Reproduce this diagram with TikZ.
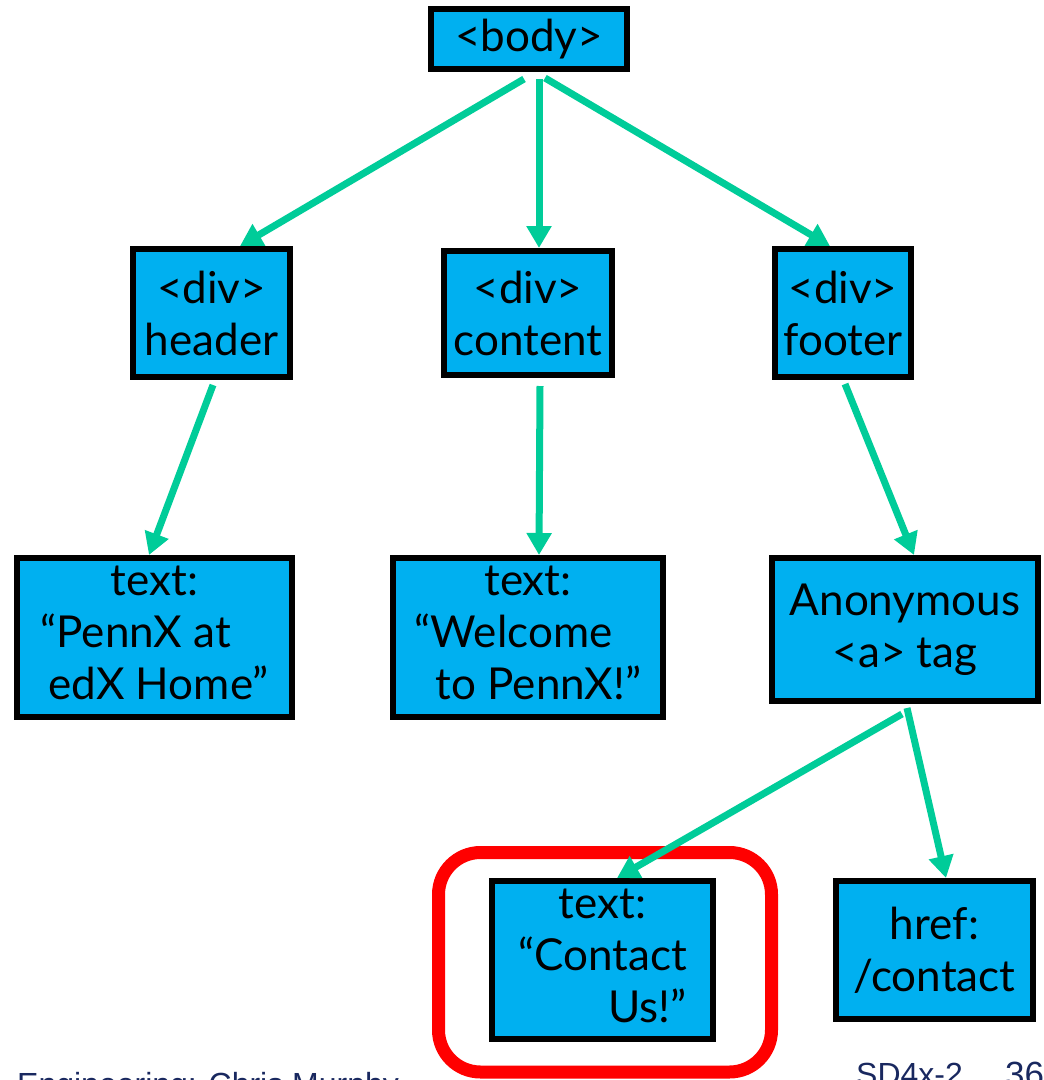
\documentclass[tikz,border=0pt]{standalone}
\usepackage{fontspec}
\setmainfont{Lato}
\newfontfamily\footfont{Liberation Sans}
\usetikzlibrary{arrows.meta}
\definecolor{boxblue}{RGB}{0,176,240}
\definecolor{linkgreen}{RGB}{0,204,153}
\definecolor{footnavy}{RGB}{25,40,95}
\definecolor{markred}{RGB}{255,0,0}

\begin{document}
\begin{tikzpicture}[x=1pt,y=-1pt,
  tag/.style={draw=black, line width=6pt, fill=boxblue, inner sep=0pt,
    align=center, font=\fontsize{44}{52}\selectfont},
  link/.style={draw=linkgreen, line width=7pt,
    -{Triangle[length=22pt,width=24pt]}},
  highlight/.style={draw=markred, line width=13pt, rounded corners=42pt,
    inner sep=0pt},
  foot/.style={inner sep=0pt, anchor=base west, text=footnavy}]

\useasboundingbox (0,0) rectangle (1044,1080);

% DOM tree nodes
\node[tag, minimum width=196pt, minimum height=60pt] (body) at (529,39) {<body>};

\node[tag, minimum width=157pt, minimum height=128pt] (header) at (211.5,313) {<div>\\header};
\node[tag, minimum width=168pt, minimum height=124pt] (content) at (528,313) {<div>\\content};
\node[tag, minimum width=136pt, minimum height=128pt] (footer) at (843,313) {<div>\\footer};

\node[tag, minimum width=275pt, minimum height=159pt] (hometext) at (154.5,637.5)
  {\begin{tabular}{@{}l@{}}\multicolumn{1}{@{}c@{}}{text:}\\“PennX at\\\hspace*{8pt}edX Home”\end{tabular}};
\node[tag, minimum width=270pt, minimum height=159pt] (welcome) at (528,637.5)
  {\begin{tabular}{@{}l@{}}\multicolumn{1}{@{}c@{}}{text:}\\“Welcome\\\hspace*{21pt}to PennX!”\end{tabular}};
\node[tag, minimum width=266pt, minimum height=143pt] (anchor) at (905,629.5) {Anonymous\\<a> tag};

% highlight ring around the link text
\node[highlight, minimum width=333pt, minimum height=219.5pt] (mark) at (605,962.25) {};

\node[tag, minimum width=221pt, minimum height=158pt] (contact) at (602.5,960)
  {\begin{tabular}{@{}r@{}}\multicolumn{1}{@{}c@{}}{text:}\\“Contact\\Us!”\end{tabular}};
\node[tag, minimum width=197pt, minimum height=138pt] (href) at (934.5,950) {href:\\/contact};

% parent -> child connectors
\draw[link] ([xshift=-5pt,yshift=-7pt]body.south) -- ([xshift=28.5pt]header.north);
\draw[link] ([xshift=10pt,yshift=-7pt]body.south) -- ([xshift=11pt]content.north);
\draw[link] ([xshift=16pt,yshift=-6pt]body.south) -- ([xshift=-13pt]footer.north);
\draw[link] ([xshift=1.5pt,yshift=-5pt]header.south) -- ([xshift=-5.5pt]hometext.north);
\draw[link] ([xshift=12pt,yshift=-8pt]content.south) -- ([xshift=11pt]welcome.north);
\draw[link] ([xshift=2pt,yshift=-4pt]footer.south) -- ([xshift=9pt]anchor.north);
\draw[link] ([xshift=-3pt,yshift=-10pt]anchor.south) -- ([xshift=14.5pt]contact.north);
\draw[link] ([xshift=2pt,yshift=-4pt]anchor.south) -- ([xshift=11.5pt]href.north);

% slide footer, running off the lower edge of the page
\node[foot, font=\footfont\fontsize{32}{38}\selectfont] (credit) at (17,1095) {Engineering: Chris Murphy};
\node[foot, font=\footfont\fontsize{32}{38}\selectfont] (course) at (856,1085) {SD4x-2};
\node[foot, font=\footfont\fontsize{35}{40}\selectfont] (page) at (1005,1086) {36};
\end{tikzpicture}
\end{document}
